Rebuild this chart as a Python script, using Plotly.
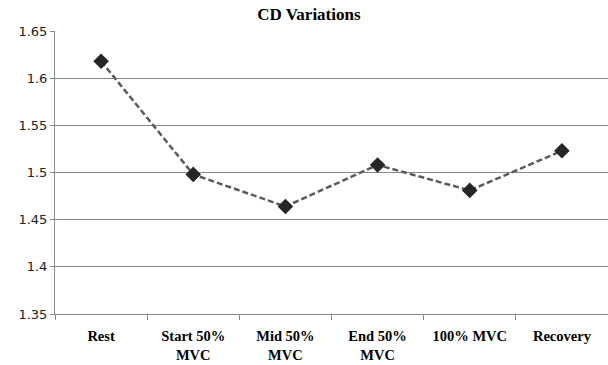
import plotly.graph_objects as go

categories = ["Rest", "Start 50%<br>MVC", "Mid 50%<br>MVC", "End 50%<br>MVC", "100% MVC", "Recovery"]
cd_values = [1.618, 1.498, 1.464, 1.508, 1.481, 1.523]
y_ticks = [1.35, 1.4, 1.45, 1.5, 1.55, 1.6, 1.65]
y_tick_labels = ["1.35", "1.4", "1.45", "1.5", "1.55", "1.6", "1.65"]

SERIF = "Liberation Serif"

fig = go.Figure()
fig.add_trace(go.Scatter(
    x=categories, y=cd_values, mode="lines+markers",
    line=dict(color="#5a5a5a", width=2.5, dash="6px,3px"),
    marker=dict(symbol="diamond", size=12, color="#262626"),
    showlegend=False,
))

fig.update_layout(
    width=608, height=365,
    margin=dict(l=55, r=0, t=31, b=51),
    paper_bgcolor="white", plot_bgcolor="white",
    title=dict(text="<b>CD Variations</b>", x=0.508, xanchor="center", y=0.962, yanchor="middle",
               font=dict(family=SERIF, size=17, color="black")),
)
fig.update_xaxes(
    type="category", tickson="boundaries", ticks="outside", ticklen=5, tickcolor="#888888",
    showline=True, linecolor="#888888", linewidth=1, showgrid=False,
    tickfont=dict(family=SERIF, size=14.5, color="black", weight="bold"),
    ticklabelstandoff=9,
    range=[-0.5, 5.5],
)
fig.update_yaxes(
    range=[1.35, 1.65], tickvals=y_ticks, ticktext=y_tick_labels,
    ticks="outside", ticklen=4, tickcolor="#888888",
    showline=True, linecolor="#888888", linewidth=1,
    showgrid=True, gridcolor="#888888", gridwidth=1, zeroline=False,
    tickfont=dict(family="DejaVu Sans", size=13, color="#222222"),
)

fig.write_html("out.html")
